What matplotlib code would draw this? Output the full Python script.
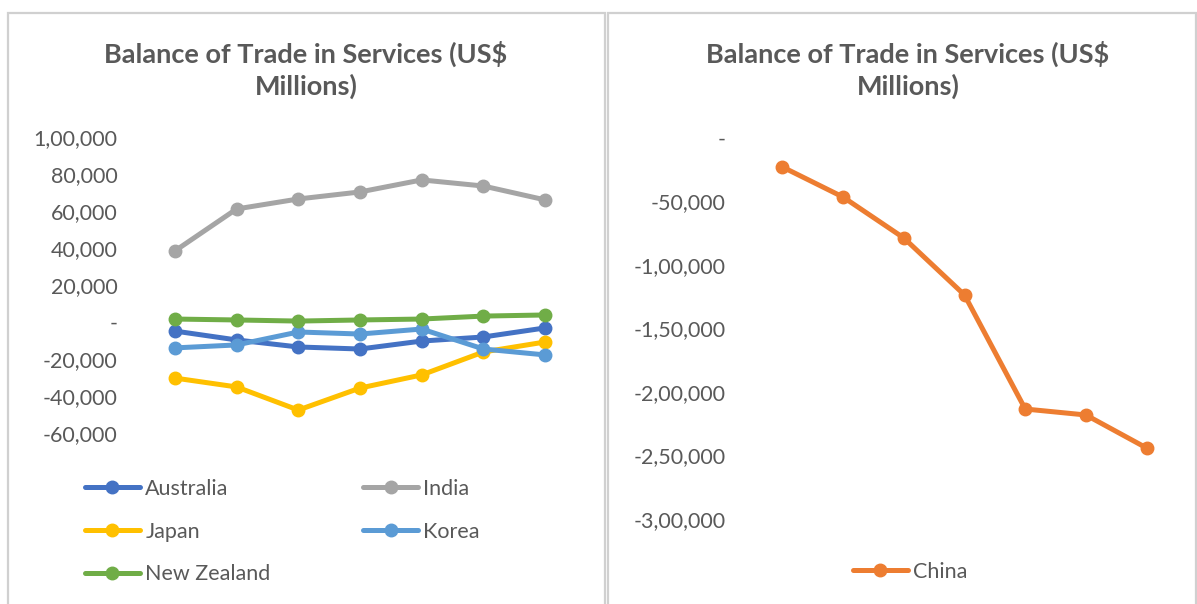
import matplotlib
matplotlib.use("Agg")
import matplotlib.pyplot as plt
from matplotlib.patches import Rectangle
from matplotlib.ticker import FuncFormatter

# DATOS (US$ millones)
years = [0, 1, 2, 3, 4, 5, 6]  # el eje de categorias no tiene etiquetas

australia   = [-4900, -9700, -13500, -14600, -10300, -8100, -3200]
india       = [38400, 61100, 66500, 70300, 76800, 73500, 66000]
japan       = [-30300, -35100, -47600, -35700, -28600, -16200, -10800]
korea       = [-14000, -12400, -5400, -6500, -3800, -14600, -17800]
new_zealand = [1600, 1100, 500, 1100, 1600, 3200, 3800]
china       = [-22800, -46500, -78700, -123600, -213400, -218100, -244100]

TITULO = "Balance of Trade in Services (US$\nMillions)"

# COLORES
C_AUS = "#4472C4"
C_IND = "#A5A5A5"
C_JPN = "#FFC000"
C_KOR = "#5B9BD5"
C_NZL = "#70AD47"
C_CHN = "#ED7D31"
GRIS_TXT = "#595959"
BORDE = "#D0D0D0"

plt.rcParams['font.family'] = ['Lato', 'DejaVu Sans']

W, H = 1197, 604
fig = plt.figure(figsize=(W / 100, H / 100), dpi=100)

FS_TICK = 15.5
FS_LEG = 15.5
FS_TIT = 19.5


def px(x0, y0, x1, y1):
    # caja en pixeles (origen arriba-izq) -> fraccion de figura
    return [x0 / W, 1 - y1 / H, (x1 - x0) / W, (y1 - y0) / H]


def formato_indio(v, pos=None):
    v = int(round(v))
    if v == 0:
        return "-"
    signo = "-" if v < 0 else ""
    s = str(abs(v))
    if len(s) > 3:
        resto, ult = s[:-3], s[-3:]
        grupos = []
        while len(resto) > 2:
            grupos.insert(0, resto[-2:])
            resto = resto[:-2]
        if resto:
            grupos.insert(0, resto)
        s = ",".join(grupos) + "," + ult
    return signo + s


def estilo_ejes(ax):
    for sp in ax.spines.values():
        sp.set_visible(False)
    ax.tick_params(axis='both', length=0)
    ax.tick_params(axis='y', labelsize=FS_TICK, labelcolor=GRIS_TXT, pad=19)
    ax.set_xticks([])
    ax.set_xlim(-0.5, 6.5)
    ax.yaxis.set_major_formatter(FuncFormatter(formato_indio))
    ax.patch.set_alpha(0)


# MARCOS DE LOS GRAFICOS
for x0, x1 in [(8, 605), (608, 1196)]:
    fig.add_artist(Rectangle((x0 / W, -0.05), (x1 - x0) / W, 1.05 - 12.5 / H,
                             transform=fig.transFigure, fill=False,
                             edgecolor=BORDE, linewidth=1.6))

estilo_linea = dict(linewidth=3.6, marker='o', markersize=9, solid_capstyle='round')

# GRAFICO IZQUIERDO
ax1 = fig.add_axes(px(144, 137, 576, 433))
l_aus, = ax1.plot(years, australia, color=C_AUS, label="Australia", **estilo_linea)
l_ind, = ax1.plot(years, india, color=C_IND, label="India", **estilo_linea)
l_jpn, = ax1.plot(years, japan, color=C_JPN, label="Japan", **estilo_linea)
l_kor, = ax1.plot(years, korea, color=C_KOR, label="Korea", **estilo_linea)
l_nzl, = ax1.plot(years, new_zealand, color=C_NZL, label="New Zealand", **estilo_linea)
ax1.set_ylim(-60000, 100000)
ax1.set_yticks(range(-60000, 100001, 20000))
estilo_ejes(ax1)

fig.text(306 / W, 1 - 70 / H, TITULO, ha='center', va='center',
         fontsize=FS_TIT, fontweight='bold', color=GRIS_TXT, linespacing=1.3)

# orden por filas como en Excel (matplotlib llena por columnas)
handles = [l_aus, l_jpn, l_nzl, l_ind, l_kor]
fig.legend(handles=handles, labels=[h.get_label() for h in handles],
           ncol=2, loc='upper left', bbox_to_anchor=(85 / W, 1 - 479 / H),
           frameon=False, fontsize=FS_LEG, labelcolor=GRIS_TXT,
           handlelength=2.55, handletextpad=0.25, labelspacing=1.05,
           columnspacing=4.3, borderpad=0, borderaxespad=0)

# GRAFICO DERECHO (CHINA)
ax2 = fig.add_axes(px(752, 138, 1177, 519))
l_chn, = ax2.plot(years, china, color=C_CHN, label="China", **estilo_linea)
ax2.set_ylim(-300000, 0)
ax2.set_yticks(range(-300000, 1, 50000))
estilo_ejes(ax2)

fig.text(908 / W, 1 - 70 / H, TITULO, ha='center', va='center',
         fontsize=FS_TIT, fontweight='bold', color=GRIS_TXT, linespacing=1.3)

fig.legend(handles=[l_chn], labels=["China"], loc='center',
           bbox_to_anchor=(910 / W, 1 - 572 / H),
           frameon=False, fontsize=FS_LEG, labelcolor=GRIS_TXT,
           handlelength=2.55, handletextpad=0.25, borderpad=0, borderaxespad=0)

fig.savefig("out.png", dpi=100)
